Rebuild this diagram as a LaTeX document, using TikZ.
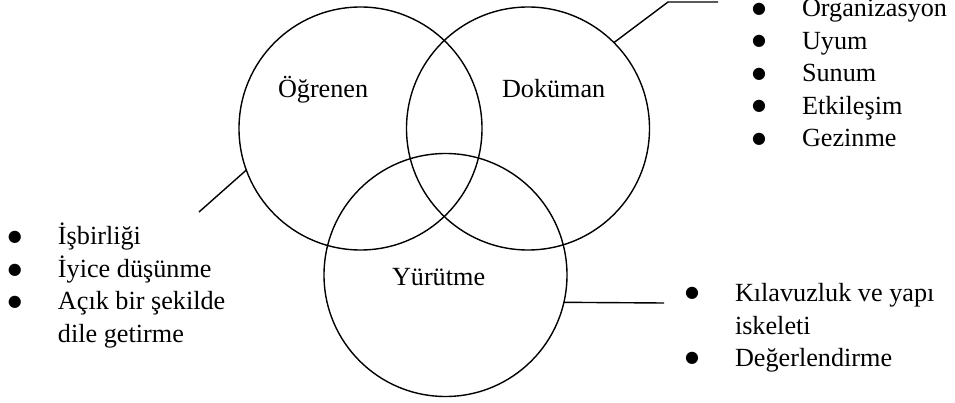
\documentclass[tikz,border=0pt]{standalone}
\usepackage{fontspec}
\setmainfont{Liberation Serif}
\newfontfamily\bulfont{DejaVu Sans}
\usepackage{array}
\newcommand\mybul{\raisebox{3.5pt}{\bulfont\fontsize{16}{16}\selectfont ●}}
\begin{document}
\begin{tikzpicture}[x=1pt,y=-1pt,
  venn/.style={circle,draw,line width=1.4pt,minimum size=243pt,inner sep=0pt,outer sep=0pt},
  conn/.style={line width=1.4pt},
  lbl/.style={anchor=base west,inner sep=0pt,outer sep=0pt,font=\fontsize{26.2}{32.5}\selectfont},
  lst/.style={anchor=base west,inner sep=0pt,outer sep=0pt,font=\fontsize{26.2}{32.5}\selectfont,align=left}]
\useasboundingbox (0,0) rectangle (955,403);
\node[venn] (L) at (360.5,128.5) {};
\node[venn] (D) at (528,128.5) {};
\node[venn] (Y) at (445.5,275) {};
\node[lbl] (tL) at (278,98) {Öğrenen};
\node[lbl] (tD) at (502,98) {Doküman};
\node[lbl] (tY) at (392,285) {Yürütme};
\coordinate (a1) at (668,2);
\coordinate (a2) at (718,2);
\coordinate (b1) at (199,212);
\coordinate (c1) at (664,303);
\draw[conn] (D.45) -- (a1) -- (a2);
\draw[conn] (L.200) -- (b1);
\draw[conn] (Y.-13) -- (c1);
\node[lst] (listD) at (752,17) {\begin{tabular}[t]{@{}p{50pt}@{}l@{}}
\mybul& Organizasyon\\
\mybul& Uyum\\
\mybul& Sunum\\
\mybul& Etkileşim\\
\mybul& Gezinme
\end{tabular}};
\node[lst] (listL) at (8,245) {\begin{tabular}[t]{@{}p{50pt}@{}l@{}}
\mybul& İşbirliği\\
\mybul& İyice düşünme\\
\mybul& Açık bir şekilde\\
 & dile getirme
\end{tabular}};
\node[lst] (listY) at (685,301.5) {\begin{tabular}[t]{@{}p{50pt}@{}l@{}}
\mybul& Kılavuzluk ve yapı\\
 & iskeleti\\
\mybul& Değerlendirme
\end{tabular}};
\end{tikzpicture}
\end{document}
